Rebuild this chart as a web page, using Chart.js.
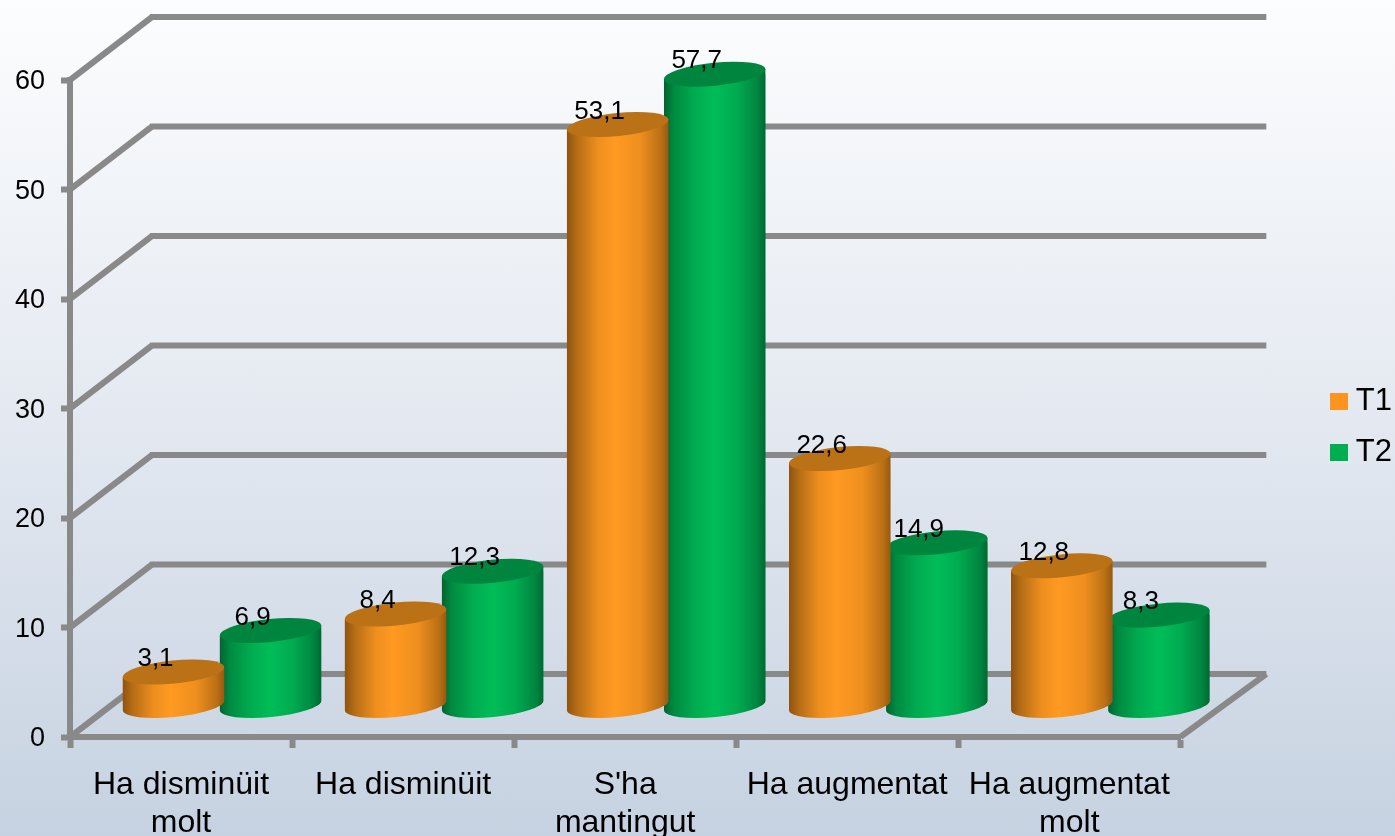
<!DOCTYPE html>
<html><head><meta charset="utf-8">
<style>
html,body{margin:0;padding:0;width:1395px;height:836px;overflow:hidden;background:linear-gradient(180deg,#fcfdfe 0%,#e4e9f1 50%,#c6d2e1 100%);}
canvas{display:block;}
</style>
<script src="https://cdn.jsdelivr.net/npm/chart.js@4"></script>
</head><body>
<canvas id="c" width="1395" height="836"></canvas>
<script>
const categories = [["Ha disminüit","molt"],"Ha disminüit",["S'ha","mantingut"],"Ha augmentat",["Ha augmentat","molt"]];
const t1Values = [3.1, 8.4, 53.1, 22.6, 12.8];
const t2Values = [6.9, 12.3, 57.7, 14.9, 8.3];
const seriesNames = ["T1","T2"];
const yTicks = [0,10,20,30,40,50,60];

const FONT = "'Liberation Sans', Arial, sans-serif";
const DEPTH_X = 82, DEPTH_Y = 63;     // wall offset
const BAR_DX = 41, BAR_DY = -31;      // bars stand in the middle of the floor
const CAP_RY = 11.5, TILT = -0.1;
const GRID = '#898989';
const CAT_PCT = 0.874, BAR_PCT = 1.05;

const looks = [
  {legend:'#fd941f', cap:'#bb7116', stops:[[0,'#8e5310'],[0.1,'#b56d15'],[0.3,'#ed8e1e'],[0.47,'#ff9a22'],[0.72,'#ef8f1e'],[0.92,'#bb7116'],[1,'#96590f']]},
  {legend:'#00ae50', cap:'#00853f', stops:[[0,'#00632f'],[0.1,'#008a41'],[0.3,'#00ab50'],[0.5,'#00bd58'],[0.72,'#00ab50'],[0.92,'#008540'],[1,'#006a32']]}
];

function bodyFill(ctx){
  const chart = ctx.chart, sx = chart.scales.x;
  const look = looks[ctx.datasetIndex];
  if(ctx.type !== 'data' || !sx || !sx.width) return look.legend;
  const cat = sx.width/categories.length;
  const slot = cat*CAT_PCT/2, w = slot*BAR_PCT;
  const cx = sx.getPixelForValue(ctx.dataIndex) + (ctx.datasetIndex===0?-1:1)*slot/2;
  const g = chart.ctx.createLinearGradient(cx-w/2,0,cx+w/2,0);
  look.stops.forEach(s=>g.addColorStop(s[0],s[1]));
  return g;
}

function swatch(color){
  const s = document.createElement('canvas');
  s.width = 18; s.height = 17;
  const c = s.getContext('2d'); c.fillStyle = color; c.fillRect(0,0,18,17);
  return s;
}

function outline(path,p){
  const rx = p.width/2, dx = rx*Math.cos(TILT), dy = rx*Math.sin(TILT);
  // clockwise on screen, the same way round as the ellipse, so the two add up
  path.moveTo(p.x-dx,p.y-dy);
  path.lineTo(p.x+dx,p.y+dy);
  path.lineTo(p.x+dx,p.base+dy);
  path.lineTo(p.x-dx,p.base-dy);
  path.closePath();
  path.moveTo(p.x+dx,p.base+dy);
  path.ellipse(p.x,p.base,rx,CAP_RY,TILT,0,Math.PI*2);
  path.closePath();
}

const cylinder3d = {
  id:'cylinder3d',
  beforeDatasetsDraw(chart){
    const {ctx, scales:{y}, chartArea:a} = chart;
    ctx.save();
    ctx.strokeStyle = GRID; ctx.lineCap='butt'; ctx.lineJoin='miter';
    yTicks.forEach(v=>{
      const p = y.getPixelForValue(v);
      ctx.lineWidth = 6;
      ctx.beginPath(); ctx.moveTo(a.left,p); ctx.lineTo(a.left+DEPTH_X,p-DEPTH_Y); ctx.stroke();
      ctx.beginPath(); ctx.moveTo(a.left+DEPTH_X-2,p-DEPTH_Y); ctx.lineTo(a.right+DEPTH_X+4,p-DEPTH_Y); ctx.stroke();
    });
    const p0 = y.getPixelForValue(0);
    ctx.lineWidth = 6;
    ctx.beginPath(); ctx.moveTo(a.right,p0); ctx.lineTo(a.right+DEPTH_X+4,p0-DEPTH_Y); ctx.stroke();
    ctx.restore();
    ctx.save();
    ctx.translate(BAR_DX,BAR_DY);
  },
  beforeDatasetDraw(chart,args){
    const {ctx} = chart;
    const all = new Path2D();
    chart.getDatasetMeta(args.index).data.forEach(b=>{
      const p = b.getProps(['x','y','base','width'],true);
      const one = new Path2D();
      outline(one,p);
      ctx.fillStyle = b.options.backgroundColor;
      ctx.fill(one);
      outline(all,p);
    });
    ctx.save();
    ctx.clip(all);
  },
  afterDatasetDraw(chart,args){
    const {ctx} = chart;
    ctx.restore();
    chart.getDatasetMeta(args.index).data.forEach(b=>{
      const p = b.getProps(['x','y','width'],true);
      ctx.fillStyle = looks[args.index].cap;
      ctx.beginPath();
      ctx.ellipse(p.x,p.y,p.width/2,CAP_RY,TILT,0,Math.PI*2);
      ctx.fill();
    });
  },
  afterDatasetsDraw(chart){
    const {ctx} = chart;
    ctx.fillStyle = '#000';
    ctx.font = "26px "+FONT;
    ctx.textAlign='center'; ctx.textBaseline='middle';
    chart.data.datasets.forEach((ds,i)=>{
      chart.getDatasetMeta(i).data.forEach((b,j)=>{
        const p = b.getProps(['x','y'],true);
        ctx.fillText(String(ds.data[j]).replace('.',','),p.x-18,p.y-13);
      });
    });
    ctx.restore();
  }
};

new Chart(document.getElementById('c'),{
  type:'bar',
  data:{labels:categories,datasets:[
    {label:seriesNames[0],data:t1Values,backgroundColor:bodyFill,borderWidth:0,clip:false,categoryPercentage:CAT_PCT,barPercentage:BAR_PCT},
    {label:seriesNames[1],data:t2Values,backgroundColor:bodyFill,borderWidth:0,clip:false,categoryPercentage:CAT_PCT,barPercentage:BAR_PCT}
  ]},
  plugins:[cylinder3d],
  options:{
    responsive:false,animation:false,
    layout:{padding:{top:18,left:0,right:-7,bottom:0}},
    plugins:{
      tooltip:{enabled:false},
      title:{display:false},
      legend:{
        position:'right',
        labels:{
          usePointStyle:true,pointStyleWidth:2,boxHeight:17,
          color:'#000',font:{family:FONT,size:31},padding:20,
          generateLabels(chart){
            return Chart.defaults.plugins.legend.labels.generateLabels(chart).map((it,i)=>{
              it.pointStyle = swatch(looks[i].legend);
              return it;
            });
          }
        }
      }
    },
    scales:{
      x:{
        offset:true,
        grid:{display:true,offset:true,drawOnChartArea:false,drawTicks:true,tickLength:11,tickColor:GRID,tickWidth:6},
        border:{display:true,color:GRID,width:6},
        ticks:{color:'#000',font:{family:FONT,size:32,lineHeight:1.19},padding:18,autoSkip:false,maxRotation:0,minRotation:0},
        afterFit(s){s.height=99;}
      },
      y:{
        min:0,max:60,
        grid:{display:true,drawOnChartArea:false,drawTicks:true,tickLength:9,tickColor:GRID,tickWidth:6},
        border:{display:true,color:GRID,width:6},
        afterBuildTicks(s){s.ticks=yTicks.map(v=>({value:v}));},
        ticks:{color:'#000',font:{family:FONT,size:27},padding:16,labelOffset:2},
        afterFit(s){s.width=70;}
      },
      spacer:{
        type:'linear',position:'right',display:true,
        grid:{display:false,drawTicks:false},border:{display:false},
        ticks:{display:false},
        afterFit(s){s.width=138;}
      },
      spacerTop:{
        type:'linear',axis:'x',position:'top',display:true,
        grid:{display:false,drawTicks:false},border:{display:false},
        ticks:{display:false},
        afterFit(s){s.height=62;}
      }
    }
  }
});
</script>
</body></html>
